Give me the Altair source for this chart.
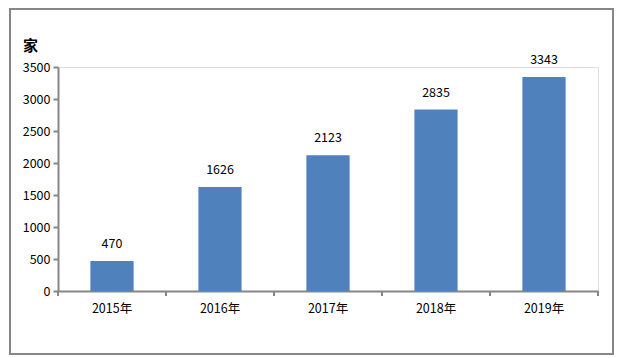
import altair as alt
import pandas as pd

years = ["2015年", "2016年", "2017年", "2018年", "2019年"]
values = [470, 1626, 2123, 2835, 3343]

FONT = "Noto Sans CJK SC"
GRAY = "#868686"
BLUE = "#4F81BD"

df = pd.DataFrame({"year": years, "value": values})
last = df.tail(1)
one = pd.DataFrame({"a": [0]})

xscale = alt.Scale(domain=years, paddingInner=0.6, paddingOuter=0.3)
x = alt.X("year:N", sort=years, scale=xscale,
          axis=alt.Axis(title=None, labelAngle=0, ticks=False, labelPadding=11,
                        labelFont=FONT, labelFontSize=12.5, labelColor="#000000",
                        domainColor=GRAY, domainWidth=2, grid=False))
y = alt.Y("value:Q", scale=alt.Scale(domain=[0, 3500], nice=False),
          axis=alt.Axis(values=[0, 500, 1000, 1500, 2000, 2500, 3000, 3500],
                        format="d", labelOverlap=False,
                        grid=False, tickSize=5, tickColor=GRAY, tickWidth=2,
                        domainColor=GRAY, domainWidth=2, labelPadding=3,
                        labelFont=FONT, labelFontSize=12.5, labelColor="#000000",
                        title="家", titleAngle=0, titleX=-28, titleY=-22,
                        titleAlign="center", titleBaseline="middle",
                        titleFont=FONT, titleFontSize=15, titleFontWeight="bold",
                        titleColor="#000000"))

base = alt.Chart(df).encode(x=x, y=y)
bars = base.mark_bar(color=BLUE)
labels = base.mark_text(baseline="bottom", dy=-10, font=FONT,
                        fontSize=12.5, color="#000000").encode(text="value:Q")

ticks = alt.Chart(df).mark_rule(color=GRAY, strokeWidth=2, xOffset=-32.4).encode(
    x=alt.X("year:N", sort=years, scale=xscale, bandPosition=0),
    y=alt.value(224), y2=alt.value(229))
tick_end = alt.Chart(last).mark_rule(color=GRAY, strokeWidth=2, xOffset=32.4).encode(
    x=alt.X("year:N", sort=years, scale=xscale, bandPosition=1),
    y=alt.value(224), y2=alt.value(229))

border = alt.Chart(one).mark_rect(fill="transparent", stroke=GRAY, strokeWidth=2,
                                  clip=False).encode(
    x=alt.value(-48), x2=alt.value(555), y=alt.value(-58), y2=alt.value(287))

chart = alt.layer(border, bars, labels, ticks, tick_end).properties(
    width=540, height=224,
    autosize=alt.AutoSizeParams(type="none"),
    padding={"left": 58, "top": 67, "right": 27, "bottom": 67},
).configure_view(stroke=None, strokeOpacity=0, strokeWidth=0).configure(background="white")

chart.save("out.html", embed_options={"renderer": "svg", "actions": False})
